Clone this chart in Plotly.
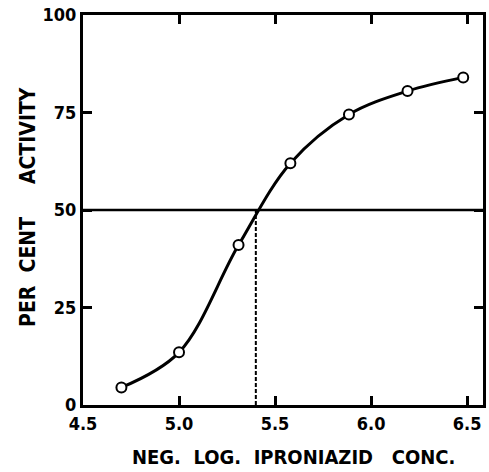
import plotly.graph_objects as go

# Data
neg_log_conc = [4.70, 5.00, 5.31, 5.58, 5.885, 6.19, 6.48]
per_cent_activity = [4.5, 13.5, 41.0, 62.0, 74.5, 80.5, 84.0]
half_activity = 50
ic50_neg_log = 5.40
x_ticks = [4.5, 5.0, 5.5, 6.0, 6.5]
x_tick_labels = ["4.5", "5.0", "5.5", "6.0", "6.5"]
y_ticks = [0, 25, 50, 75, 100]
y_tick_labels = ["0", "25", "50", "75", "100"]
x_title = "NEG.&nbsp;&nbsp;LOG.&nbsp;&nbsp;IPRONIAZID&nbsp;&nbsp;&nbsp;CONC."
y_title = "PER&nbsp;&nbsp;CENT&nbsp;&nbsp;&nbsp;&nbsp;&nbsp;ACTIVITY"

FONT = "DejaVu Sans Condensed, DejaVu Sans, sans-serif"

fig = go.Figure()

# horizontal 50% line
fig.add_trace(go.Scatter(
    x=[x_ticks[0], 6.7], y=[half_activity, half_activity],
    mode="lines", line=dict(color="black", width=2.5), hoverinfo="skip",
    showlegend=False))

# vertical dashed line at the 50% crossing
fig.add_trace(go.Scatter(
    x=[ic50_neg_log, ic50_neg_log], y=[0, half_activity],
    mode="lines", line=dict(color="black", width=2, dash="4px,2px"),
    hoverinfo="skip", showlegend=False))

# curve with points
fig.add_trace(go.Scatter(
    x=neg_log_conc, y=per_cent_activity,
    mode="lines+markers",
    line=dict(color="black", width=3, shape="spline", smoothing=1.0),
    marker=dict(symbol="circle", size=10, color="white",
                line=dict(color="black", width=2)),
    showlegend=False))

fig.update_layout(
    width=489, height=472,
    margin=dict(l=83, r=6, t=15, b=67, autoexpand=False),
    paper_bgcolor="white", plot_bgcolor="white",
    font=dict(family=FONT, color="black", size=16),
    annotations=[
        dict(text=x_title, xref="paper", yref="paper", x=0.525, y=0,
             yshift=-66, xanchor="center", yanchor="bottom", showarrow=False,
             font=dict(family=FONT, size=20, weight="bold")),
        dict(text=y_title, xref="paper", yref="paper", x=0, y=0.508,
             xshift=-55, xanchor="center", yanchor="middle", showarrow=False,
             textangle=-90,
             font=dict(family=FONT, size=21, weight="bold")),
    ],
)

fig.update_xaxes(
    range=[4.5, 6.583], tickvals=x_ticks, ticktext=x_tick_labels,
    showgrid=False, zeroline=False, automargin=False,
    showline=True, linewidth=3, linecolor="black", mirror="ticks",
    ticks="inside", ticklen=9, tickwidth=2.5, tickcolor="black",
    tickfont=dict(family=FONT, size=18, weight="bold"),
)
fig.update_yaxes(
    range=[0, 100], tickvals=y_ticks, ticktext=y_tick_labels,
    showgrid=False, zeroline=False, automargin=False,
    showline=True, linewidth=3, linecolor="black", mirror="ticks",
    ticks="inside", ticklen=9, tickwidth=2.5, tickcolor="black",
    tickfont=dict(family=FONT, size=18, weight="bold"),
)

# remove the browser's default 8px body margin so the figure fills the window
fig.write_html("out.html", config={"displayModeBar": False},
               post_script="document.body.style.margin='0px';")
